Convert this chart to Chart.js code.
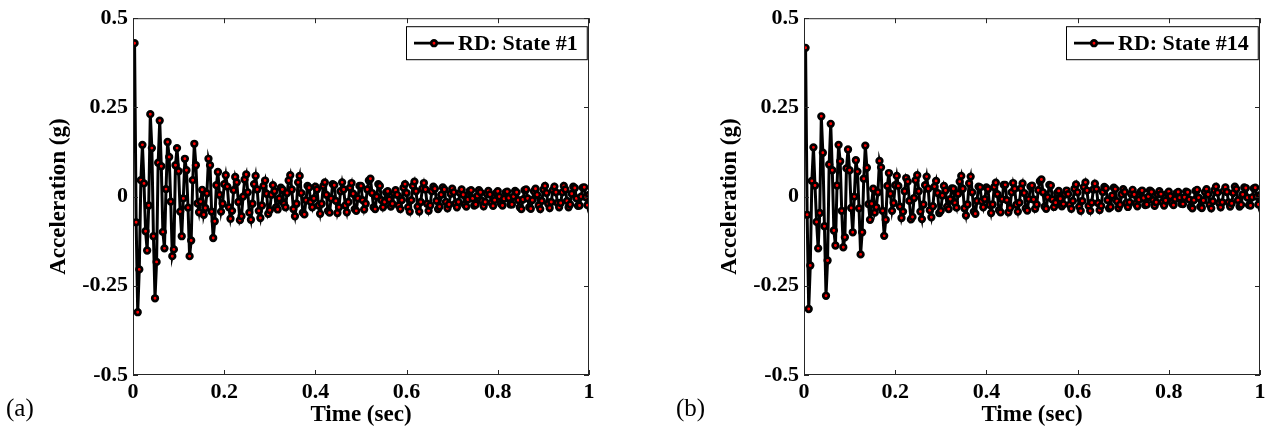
<!DOCTYPE html>
<html>
<head>
<meta charset="utf-8">
<script src="https://cdn.jsdelivr.net/npm/chart.js@4.4.1/dist/chart.umd.min.js"></script>
<style>
  body { margin: 0; background: #fff; width: 1271px; height: 437px; position: relative; overflow: hidden; font-family: "Liberation Serif", serif; }
  .panel { position: absolute; top: 0; width: 600px; height: 437px; }
  .tag { position: absolute; top: 394px; font-size: 25px; color: #000; }
</style>
</head>
<body>
<div class="panel" style="left:0"><canvas id="chartA"></canvas></div>
<div class="panel" style="left:671px"><canvas id="chartB"></canvas></div>
<div class="tag" style="left:6px">(a)</div>
<div class="tag" style="left:676px">(b)</div>
<script>
// sampling: one value every 1/sampleRate sec, first sample at t = 1/sampleRate
const sampleRate = 290;

const xTicks = [0, 0.2, 0.4, 0.6, 0.8, 1];
const yTicks = [-0.5, -0.25, 0, 0.25, 0.5];
const xTickLabels = ["0", "0.2", "0.4", "0.6", "0.8", "1"];
const yTickLabels = ["-0.5", "-0.25", "0", "0.25", "0.5"];

const labelA = "RD: State #1";
const labelB = "RD: State #14";

// acceleration (g), state #1
const accelA = [
  0.43, -0.072, -0.324, -0.204, 0.046, 0.145, 0.037, -0.097, -0.151, -0.025,
  0.231, 0.136, -0.111, -0.285, -0.183, 0.095, 0.213, 0.085, -0.099, -0.145,
  0.021, 0.153, 0.111, -0.014, -0.167, -0.148, 0.088, 0.136, 0.071, -0.042,
  -0.111, -0.005, 0.106, 0.074, -0.031, -0.167, -0.123, 0.046, 0.148, 0.088,
  -0.019, -0.044, -0.014, 0.019, -0.051, -0.032, 0.009, 0.106, 0.088, -0.042,
  -0.116, -0.069, 0.032, 0.069, 0.005, -0.042, -0.02,
  0.035, 0.06, 0.028, -0.03, -0.062, -0.04,
  0.018, 0.055, 0.04, -0.015, -0.066, -0.055,
  0.0, 0.048, 0.062, 0.012, -0.045, -0.065,
  -0.02, 0.035, 0.058, 0.02, -0.04, -0.06,
  -0.025, 0.03, 0.045, 0.008, -0.048, -0.038,
  0.005, 0.032, 0.015, -0.03, -0.036, -0.005, 0.025, 0.02, -0.02, -0.03,
  0.01, 0.045, 0.06, 0.02, -0.035, -0.055, -0.02, 0.04, 0.058, 0.01,
  -0.045, -0.05, -0.01, 0.03, 0.025, -0.015, -0.03, -0.005, 0.028, 0.02,
  -0.025, -0.048, -0.02, 0.03, 0.04, 0.005,
  -0.04, -0.045, -0.005, 0.035, 0.032, -0.012,
  -0.046, -0.03, 0.015, 0.04, 0.02, -0.025,
  -0.044, -0.015, 0.025, 0.038, 0.008, -0.035,
  -0.04, -0.005, 0.03, 0.03, -0.01, -0.036,
  -0.02, 0.02, 0.045, 0.05, 0.01, -0.03, -0.035, 0.0, 0.035, 0.03,
  -0.01, -0.03, -0.015, 0.012, 0.015, -0.008, -0.028, -0.02, 0.008, 0.018, 0.005, -0.025,
  -0.035, -0.01, 0.025, 0.035, 0.01, -0.03, -0.042, -0.01, 0.03, 0.042,
  0.015, -0.028, -0.042, -0.015, 0.022, 0.038, 0.02, -0.02, -0.04, -0.025, 0.015,
  0.028, 0.022, -0.012, -0.035, -0.028, 0.005, 0.026, 0.02, -0.015, -0.033,
  -0.022, 0.008, 0.022, 0.012, -0.02, -0.03, -0.015, 0.01, 0.02, 0.005,
  -0.022, -0.028, -0.008, 0.015, 0.018, -0.005, -0.025, -0.022, 0.002, 0.018,
  0.012, -0.012, -0.027, -0.015, 0.008, 0.016, 0.006, -0.018, -0.026, -0.01,
  0.01, 0.015, 0.0, -0.02, -0.025, -0.006, 0.012, 0.014, -0.004, -0.022,
  -0.022, 0.0, 0.016, 0.012,
  -0.01, -0.03, -0.035, -0.008, 0.018, 0.02, -0.005, -0.03, -0.034, -0.01, 0.015, 0.022,
  0.005, -0.025, -0.035, -0.012, 0.02, 0.03, 0.01, -0.02, -0.032, -0.015,
  0.018, 0.028, 0.012, -0.018, -0.03, -0.018, 0.012, 0.03, 0.02, -0.012,
  -0.03, -0.022, 0.008, 0.028, 0.024, -0.005, -0.026, -0.025, 0.0, 0.025,
  0.026, -0.002, -0.024, 0.005
];

// acceleration (g), state #14
const accelB = [
  0.417, -0.051, -0.315, -0.193, 0.044, 0.138, 0.031, -0.071, -0.145, -0.046,
  0.225, 0.123, -0.083, -0.278, -0.179, 0.09, 0.204, 0.074, -0.095, -0.137,
  0.031, 0.145, 0.099, -0.04, -0.142, -0.114, 0.079, 0.132, 0.074, -0.032,
  -0.1, 0.0, 0.102, 0.07, -0.033, -0.162, -0.1, 0.05, 0.143, 0.081,
  -0.021, -0.065, -0.02, 0.022, -0.045, -0.03, 0.012, 0.1, 0.082, -0.04,
  -0.11, -0.065, 0.03, 0.066, 0.008, -0.04, -0.018,
  0.032, 0.058, 0.03, -0.028, -0.06, -0.042,
  0.015, 0.052, 0.042, -0.012, -0.064, -0.057,
  -0.004, 0.046, 0.06, 0.015, -0.042, -0.063,
  -0.022, 0.032, 0.056, 0.022, -0.038, -0.058,
  -0.027, 0.028, 0.044, 0.01, -0.046, -0.04,
  0.003, 0.03, 0.017, -0.028, -0.035, -0.007, 0.023, 0.022, -0.018, -0.031,
  0.008, 0.042, 0.058, 0.022, -0.033, -0.053, -0.022, 0.037, 0.056, 0.012,
  -0.042, -0.048, -0.012, 0.028, 0.026, -0.013, -0.03, -0.007, 0.026, 0.021,
  -0.023, -0.046, -0.022, 0.027, 0.039, 0.007,
  -0.038, -0.044, -0.007, 0.033, 0.033, -0.01,
  -0.044, -0.032, 0.012, 0.038, 0.022, -0.023,
  -0.042, -0.017, 0.023, 0.037, 0.01, -0.033,
  -0.039, -0.007, 0.028, 0.031, -0.008, -0.034,
  -0.022, 0.018, 0.043, 0.048, 0.012, -0.028, -0.034, -0.002, 0.033, 0.031,
  -0.008, -0.029, -0.017, 0.01, 0.016, -0.006, -0.027, -0.021, 0.006, 0.017, 0.007, -0.023,
  -0.034, -0.012, 0.022, 0.034, 0.012, -0.028, -0.04, -0.012, 0.027, 0.04,
  0.017, -0.026, -0.04, -0.017, 0.02, 0.036, 0.021, -0.018, -0.038, -0.026, 0.013,
  0.027, 0.023, -0.01, -0.033, -0.029, 0.003, 0.025, 0.021, -0.013, -0.032,
  -0.023, 0.006, 0.021, 0.013, -0.018, -0.029, -0.016, 0.008, 0.019, 0.006,
  -0.02, -0.027, -0.009, 0.013, 0.017, -0.004, -0.024, -0.022, 0.0, 0.017,
  0.013, -0.01, -0.026, -0.016, 0.006, 0.015, 0.007, -0.016, -0.025, -0.011,
  0.008, 0.014, 0.001, -0.018, -0.024, -0.007, 0.01, 0.013, -0.003, -0.02,
  -0.021, -0.002, 0.014, 0.012,
  -0.008, -0.028, -0.033, -0.01, 0.016, 0.019, -0.003, -0.028, -0.032, -0.011, 0.013, 0.021,
  0.006, -0.023, -0.033, -0.013, 0.018, 0.028, 0.011, -0.018, -0.03, -0.016,
  0.016, 0.026, 0.013, -0.016, -0.028, -0.019, 0.01, 0.028, 0.021, -0.01,
  -0.028, -0.023, 0.006, 0.026, 0.024, -0.003, -0.024, -0.025, -0.002, 0.023,
  0.025, 0.0, -0.022, 0.004
];

const FONT = '"Liberation Serif", "Times New Roman", serif';
Chart.defaults.font.family = FONT;
Chart.defaults.color = '#000';

// matlab style box with inward ticks
const frameTicks = {
  id: 'frameTicks',
  afterDatasetsDraw(chart) {
    const { ctx, chartArea: a, scales: { x, y } } = chart;
    ctx.save();
    ctx.strokeStyle = '#262626';
    ctx.lineWidth = 1;
    ctx.strokeRect(a.left + 0.5, a.top + 0.5, a.width - 1, a.height - 1);
    ctx.beginPath();
    xTicks.forEach(v => {
      const px = Math.round(x.getPixelForValue(v)) + 0.5;
      ctx.moveTo(px, a.bottom); ctx.lineTo(px, a.bottom - 5);
      ctx.moveTo(px, a.top); ctx.lineTo(px, a.top + 5);
    });
    yTicks.forEach(v => {
      const py = Math.round(y.getPixelForValue(v)) + 0.5;
      ctx.moveTo(a.left, py); ctx.lineTo(a.left + 5, py);
      ctx.moveTo(a.right, py); ctx.lineTo(a.right - 5, py);
    });
    ctx.stroke();
    ctx.restore();
  }
};

// legend drawn as a boxed entry in the top right corner of the axes
const legendBox = {
  id: 'legendBox',
  afterDraw(chart, args, opts) {
    const { ctx, chartArea: a } = chart;
    ctx.save();
    ctx.font = 'bold 22px ' + FONT;
    const tw = ctx.measureText(opts.text).width;
    const h = 33;
    const w = 52 + tw + 9;
    const right = a.right - 2;
    const left = Math.round(right - w);
    const top = a.top + 8;
    ctx.fillStyle = '#fff';
    ctx.fillRect(left, top, w, h);
    ctx.strokeStyle = '#000';
    ctx.lineWidth = 1;
    ctx.strokeRect(left + 0.5, top + 0.5, w, h);
    const cy = top + h / 2 + 0.5;
    ctx.lineWidth = 2.7;
    ctx.beginPath();
    ctx.moveTo(left + 8, cy);
    ctx.lineTo(left + 48, cy);
    ctx.stroke();
    ctx.beginPath();
    ctx.arc(left + 28, cy, 2.8, 0, Math.PI * 2);
    ctx.fillStyle = '#ff0000';
    ctx.fill();
    ctx.stroke();
    ctx.fillStyle = '#000';
    ctx.textBaseline = 'middle';
    ctx.fillText(opts.text, left + 52, cy + 1);
    ctx.restore();
  }
};

function makeChart(id, values, label) {
  const points = values.map((v, i) => ({ x: (i + 1) / sampleRate, y: v }));
  return new Chart(document.getElementById(id), {
    type: 'line',
    data: {
      datasets: [{
        label: label,
        data: points,
        borderColor: '#000',
        borderWidth: 3,
        pointRadius: 2.8,
        pointBorderWidth: 2.7,
        pointBackgroundColor: '#ff0000',
        pointBorderColor: '#000',
        tension: 0,
        fill: false
      }]
    },
    options: {
      responsive: true,
      maintainAspectRatio: false,
      animation: false,
      events: [],
      layout: { padding: { top: 15, right: 11, left: 0, bottom: 0 } },
      plugins: {
        legend: { display: false },
        tooltip: { enabled: false },
        legendBox: { text: label }
      },
      scales: {
        x: {
          type: 'linear',
          min: 0, max: 1,
          afterBuildTicks: s => { s.ticks = xTicks.map(v => ({ value: v })); },
          afterFit: s => { s.height = 62; },
          grid: { display: false, drawTicks: false },
          border: { display: false },
          ticks: {
            padding: 4,
            maxRotation: 0,
            font: { size: 22, weight: 'bold' },
            callback: (v) => xTickLabels[xTicks.indexOf(v)]
          },
          title: {
            display: true, text: 'Time (sec)',
            font: { size: 23, weight: 'bold' },
            padding: { top: 0, bottom: 8 }
          }
        },
        y: {
          min: -0.5, max: 0.5,
          afterBuildTicks: s => { s.ticks = yTicks.map(v => ({ value: v })); },
          afterFit: s => { s.width = 133; },
          grid: { display: false, drawTicks: false },
          border: { display: false },
          ticks: {
            padding: 5,
            font: { size: 22, weight: 'bold' },
            callback: (v) => yTickLabels[yTicks.indexOf(v)]
          },
          title: {
            display: true, text: 'Acceleration (g)',
            font: { size: 23, weight: 'bold' },
            padding: { top: 45, bottom: 0 }
          }
        }
      }
    },
    plugins: [frameTicks, legendBox]
  });
}

makeChart('chartA', accelA, labelA);
makeChart('chartB', accelB, labelB);
</script>
</body>
</html>
